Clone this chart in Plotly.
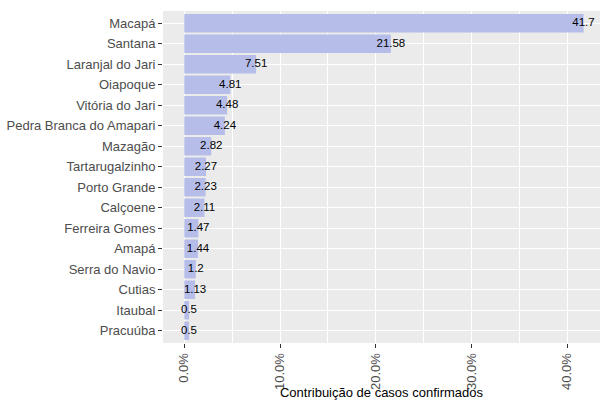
import plotly.graph_objects as go

MUNICIPIOS = ['Macapá', 'Santana', 'Laranjal do Jari', 'Oiapoque', 'Vitória do Jari',
              'Pedra Branca do Amapari', 'Mazagão', 'Tartarugalzinho', 'Porto Grande',
              'Calçoene', 'Ferreira Gomes', 'Amapá', 'Serra do Navio', 'Cutias',
              'Itaubal', 'Pracuúba']
CONTRIB = [41.7, 21.58, 7.51, 4.81, 4.48, 4.24, 2.82, 2.27, 2.23, 2.11,
           1.47, 1.44, 1.2, 1.13, 0.5, 0.5]
X_TICKS = [0, 0.1, 0.2, 0.3, 0.4]

frac = [v / 100 for v in CONTRIB]
font = 'Liberation Sans, Arial, sans-serif'

fig = go.Figure()
fig.add_trace(go.Bar(
    x=frac, y=MUNICIPIOS, orientation='h',
    marker=dict(color='#B6BDE9', line=dict(width=0)),
    width=0.9, showlegend=False, hoverinfo='skip',
))
fig.add_trace(go.Scatter(
    x=frac, y=MUNICIPIOS, mode='text',
    text=[f'{v:g}' for v in CONTRIB],
    textposition='middle center',
    textfont=dict(family=font, size=11.5, color='black'),
    showlegend=False, cliponaxis=False, hoverinfo='skip',
))

fig.update_layout(
    width=601, height=400,
    margin=dict(l=163, r=1, t=11, b=57),
    plot_bgcolor='#EBEBEB', paper_bgcolor='white',
    font=dict(family=font, size=13, color='#4D4D4D'),
)
fig.update_xaxes(
    range=[-0.0222, 0.4342], automargin=False,
    tickvals=X_TICKS, tickformat='.1%', tickangle=-90,
    ticks='outside', ticklen=4, tickcolor='#333333',
    showgrid=True, gridcolor='white', gridwidth=1.1,
    minor=dict(dtick=0.05, tick0=0.05, showgrid=True, gridcolor='white', gridwidth=0.5),
    zeroline=False, showline=False,
    title=dict(text='Contribuição de casos confirmados',
               font=dict(size=13, color='black'), standoff=2),
)
fig.update_yaxes(
    categoryorder='array', categoryarray=MUNICIPIOS[::-1],
    range=[-0.6, 15.6], automargin=False,
    ticks='outside', ticklen=4, tickcolor='#333333',
    showgrid=True, gridcolor='white', gridwidth=1.1,
    zeroline=False, showline=False,
)

# the browser's default 8px body margin would shift the whole figure
fig.write_html('out.html', config={'displayModeBar': False},
               post_script="document.body.style.margin='0';")
